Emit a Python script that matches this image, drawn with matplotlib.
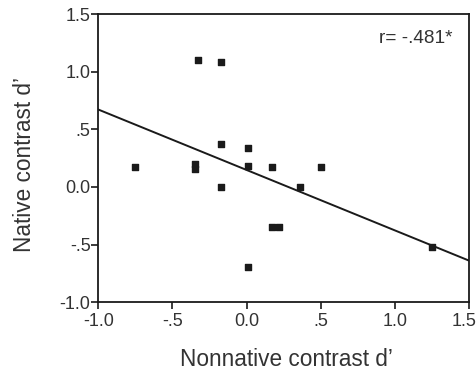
import matplotlib
matplotlib.use("Agg")
import matplotlib.pyplot as plt
import matplotlib.transforms as mtransforms
import numpy as np

plt.rcParams['font.family'] = ['Liberation Sans', 'DejaVu Sans']

# data
nonnative = [-0.75, -0.33, -0.17, -0.35, -0.35, -0.17, -0.17, 0.01, 0.01,
             0.17, 0.36, 0.50, 0.17, 0.22, 0.01, 1.25]
native = [0.17, 1.10, 1.08, 0.20, 0.16, 0.37, 0.00, 0.34, 0.18,
          0.17, 0.00, 0.17, -0.35, -0.35, -0.69, -0.52]

# regression line as drawn in the figure
line_intercept = 0.148
line_slope = -0.524

xticks = [-1.0, -0.5, 0.0, 0.5, 1.0, 1.5]
xticklabels = ['-1.0', '-.5', '0.0', '.5', '1.0', '1.5']
yticks = [-1.0, -0.5, 0.0, 0.5, 1.0, 1.5]
yticklabels = ['-1.0', '-.5', '0.0', '.5', '1.0', '1.5']

fig = plt.figure(figsize=(4.77, 3.70), dpi=100)
ax = fig.add_axes([0.206, 0.183, 0.777, 0.779])

ax.scatter(nonnative, native, marker='s', s=15, color='#1a1a1a', zorder=3)

xl = np.array([-1.0, 1.5])
ax.plot(xl, line_intercept + line_slope * xl, color='#1a1a1a', lw=1.4, zorder=2)

ax.set_xlim(-1.0, 1.5)
ax.set_ylim(-1.0, 1.5)
ax.set_xticks(xticks)
ax.set_xticklabels(xticklabels)
ax.set_yticks(yticks)
ax.set_yticklabels(yticklabels)

for s in ax.spines.values():
    s.set_linewidth(1.3)
    s.set_color('#1a1a1a')
ax.tick_params(direction='out', length=5, width=1.2, colors='#1a1a1a',
               labelsize=13, labelcolor='#333333')
ax.tick_params(axis='x', pad=3)
ax.tick_params(axis='y', pad=0.5)

# last x tick label sits a bit left of its tick in the original
last = ax.get_xticklabels()[-1]
last.set_transform(last.get_transform() +
                   mtransforms.ScaledTranslation(-4.5 / 100, 0, fig.dpi_scale_trans))

ax.set_xlabel("Nonnative contrast d\u2019", fontsize=16.3, color='#333333')
ax.xaxis.label.set_verticalalignment('center')
ax.xaxis.set_label_coords(0.508, -0.198)
ax.set_ylabel("Native contrast d\u2019", fontsize=16.3, color='#333333')
ax.yaxis.label.set_verticalalignment('center')
ax.yaxis.set_label_coords(-0.2, 0.478)

ax.text(0.957, 0.915, "r= -.481*", transform=ax.transAxes, ha='right', va='center',
        fontsize=13.7, color='#333333')

fig.savefig("out.png", dpi=100)
